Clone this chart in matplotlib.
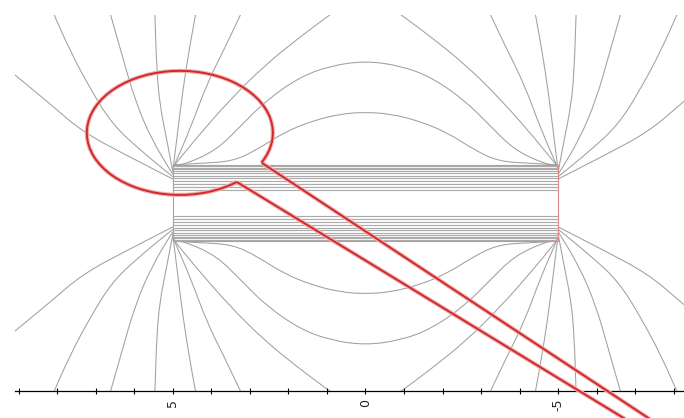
import numpy as np
import matplotlib
matplotlib.use("Agg")
import matplotlib.pyplot as plt
from matplotlib.path import Path
from matplotlib.patches import PathPatch, Arc, Rectangle

# field lines, upper-left quarter only (x > 0, y > 0),
# each runs from the magnet end face outwards; mirrored to the other quarters
fan_lines = [
    [(5.0, 0.62), (6.17, 1.22), (7.34, 1.84), (8.22, 2.60), (9.10, 3.32), (9.60, 3.75)],
    [(5.0, 0.68), (5.86, 1.38), (6.58, 2.05), (7.16, 2.99), (7.68, 3.97), (8.14, 5.01)],
    [(5.0, 0.74), (5.55, 1.64), (5.99, 2.68), (6.32, 3.84), (6.64, 4.96)],
    [(5.0, 0.80), (5.16, 1.64), (5.34, 2.55), (5.42, 3.45), (5.47, 4.96)],
    [(5.0, 0.85), (4.87, 1.90), (4.74, 2.94), (4.58, 3.97), (4.40, 4.96)],
    [(5.0, 0.90), (4.56, 1.90), (4.12, 3.09), (3.68, 3.97), (3.21, 4.96)],
]

# arches over the magnet: left half, from the end face to the top at x = 0
arch_halves = [
    [(5.0, 0.93), (4.43, 1.64), (3.52, 2.68), (2.61, 3.58), (1.70, 4.31), (1.0, 4.83), (0.55, 5.15), (0.0, 5.25)],
    [(5.0, 0.96), (4.64, 1.02), (3.86, 1.38), (3.21, 2.03), (2.56, 2.68), (1.70, 3.27), (0.92, 3.56), (0.0, 3.69)],
    [(5.0, 0.99), (4.30, 1.03), (3.44, 1.08), (2.79, 1.40), (2.14, 1.82), (1.39, 2.13), (0.66, 2.31), (0.0, 2.36)],
]

# lines running through the magnet (upper bar; lower bar is the mirror)
inner_y = [0.96, 0.92, 0.87, 0.82, 0.77, 0.71, 0.65, 0.58, 0.50, 0.42, 0.35]

magnet_x = (-5.0, 5.0)
magnet_y = (-0.99, 0.99)

tick_pos = list(range(-8, 10))
tick_text = {5: "5", 0: "0", -5: "-5"}

# magnifier drawn over the plot
loupe_center = (4.82, 1.82)
loupe_w, loupe_h = 4.83, 3.22
handle_upper = [(2.69, 1.04), (-8.22, -6.16)]
handle_lower = [(3.34, 0.545), (-7.65, -6.16)]

LINE = "#a0a0a0"
RED = "#cf2a2a"


def smooth(pts):
    # points act as control points of a chain of quadratic curves
    pts = np.asarray(pts, float)
    if len(pts) < 3:
        return Path(pts)
    verts = [pts[0], (pts[0] + pts[1]) / 2]
    codes = [Path.MOVETO, Path.LINETO]
    for i in range(1, len(pts) - 1):
        verts += [pts[i], (pts[i] + pts[i + 1]) / 2]
        codes += [Path.CURVE3, Path.CURVE3]
    verts.append(pts[-1])
    codes.append(Path.LINETO)
    return Path(verts, codes)


def mirrored(pts):
    out = []
    for sx in (1, -1):
        for sy in (1, -1):
            out.append([(sx * x, sy * y) for x, y in pts])
    return out


fig = plt.figure(figsize=(6.84, 4.18), dpi=100)
ax = fig.add_axes([15 / 684, 27 / 418, 669 / 684, 376 / 418])
ax.set_xlim(9.10, -8.27)
ax.set_ylim(-4.88, 4.88)

for line in fan_lines:
    for pts in mirrored(line):
        ax.add_patch(PathPatch(smooth(pts), fill=False, ec=LINE, lw=0.75, zorder=1))

for half in arch_halves:
    full = half + [(-x, y) for x, y in reversed(half[:-1])]
    for sy in (1, -1):
        pts = [(x, sy * y) for x, y in full]
        ax.add_patch(PathPatch(smooth(pts), fill=False, ec=LINE, lw=0.75, zorder=1))

for y in inner_y:
    for sy in (1, -1):
        ax.plot(magnet_x, [sy * y, sy * y], color="#acacac", lw=0.85, zorder=1)

ax.add_patch(Rectangle((magnet_x[0], magnet_y[0]), magnet_x[1] - magnet_x[0],
                       magnet_y[1] - magnet_y[0], fill=False, ec="#e08a8a", lw=0.8, zorder=2))

# magnifier: ellipse with a gap where the handle leaves it
a1 = np.degrees(np.arctan2(handle_upper[0][1] - loupe_center[1], handle_upper[0][0] - loupe_center[0]))
a2 = np.degrees(np.arctan2(handle_lower[0][1] - loupe_center[1], handle_lower[0][0] - loupe_center[0]))
for col, lw in (("#f3b0b0", 3.0), (RED, 1.4)):
    ax.add_patch(Arc(loupe_center, loupe_w, loupe_h, theta1=a2 % 360, theta2=a1 % 360,
                     ec=col, lw=lw, zorder=3))
    for h in (handle_upper, handle_lower):
        ax.plot([p[0] for p in h], [p[1] for p in h], color=col, lw=lw,
                zorder=3, clip_on=False, solid_capstyle="butt")

for s in ("left", "right", "top"):
    ax.spines[s].set_visible(False)
ax.spines["bottom"].set_linewidth(0.9)
ax.set_yticks([])
ax.set_xticks(tick_pos)
ax.set_xticklabels([tick_text.get(t, "") for t in tick_pos], rotation=90, fontsize=9, color="#222222")
ax.tick_params(axis="x", direction="inout", length=5, width=0.8, pad=3)

fig.savefig("out.png", dpi=100)
